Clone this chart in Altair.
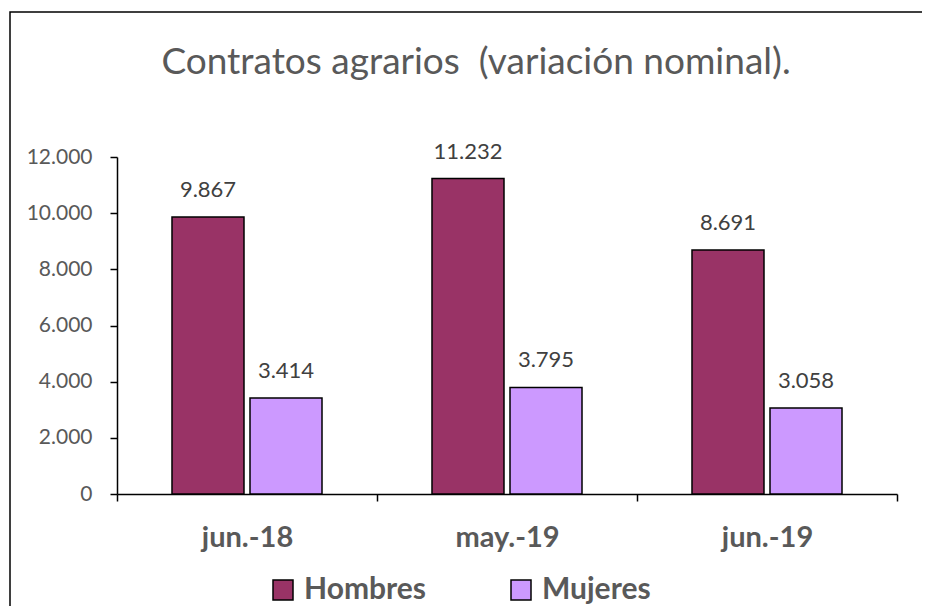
import altair as alt
import pandas as pd

categories = ["jun.-18", "may.-19", "jun.-19"]
hombres = [9867, 11232, 8691]
mujeres = [3414, 3795, 3058]
series = ["Hombres", "Mujeres"]
colors = ["#993366", "#CC99FF"]
y_ticks = [0, 2000, 4000, 6000, 8000, 10000, 12000]

rows = []
for c, h, m in zip(categories, hombres, mujeres):
    rows.append({"cat": c, "serie": series[0], "valor": h})
    rows.append({"cat": c, "serie": series[1], "valor": m})
df = pd.DataFrame(rows)

FONT = "Lato"
W, H = 780, 337

x_enc = alt.X(
    "cat:N", sort=categories, title=None,
    scale=alt.Scale(paddingInner=0, paddingOuter=0),
    axis=alt.Axis(
        tickBand="extent", labelAngle=0, labelFont=FONT, labelFontSize=29,
        labelFontWeight="bold", labelColor="#595959", labelPadding=22,
        domainColor="black", domainWidth=1.5, tickColor="black", tickWidth=1.5,
        tickSize=7, grid=False,
    ),
)
xo_enc = alt.XOffset(
    "serie:N", sort=series,
    scale=alt.Scale(paddingInner=0.077, paddingOuter=0.705),
)
y_enc = alt.Y(
    "valor:Q", title=None,
    scale=alt.Scale(domain=[0, 12000], nice=False),
    axis=alt.Axis(
        values=y_ticks, labelExpr="replace(format(datum.value, ','), ',', '.')",
        labelFont=FONT, labelFontSize=21, labelColor="#595959", labelPadding=18,
        domainColor="black", domainWidth=1.5, tickColor="black", tickWidth=1.5,
        tickSize=7, grid=False,
    ),
)

base = alt.Chart(df)

bars = base.mark_bar(stroke="black", strokeWidth=1.5).encode(
    x=x_enc, xOffset=xo_enc, y=y_enc,
    color=alt.Color(
        "serie:N", sort=series, title=None,
        scale=alt.Scale(domain=series, range=colors),
        legend=alt.Legend(
            orient="none", direction="horizontal", legendX=151, legendY=418,
            symbolType="square", symbolSize=400, symbolStrokeColor="black",
            symbolStrokeWidth=1.5, symbolOpacity=1,
            labelFont=FONT, labelFontSize=30, labelFontWeight="bold",
            labelColor="#595959", labelOffset=6, columnPadding=80,
        ),
    ),
)

labels = base.transform_calculate(
    lbl="replace(format(datum.valor, ','), ',', '.')"
).mark_text(
    font=FONT, fontSize=22, color="#404040", baseline="alphabetic", dy=-20
).encode(x=x_enc, xOffset=xo_enc, y=y_enc, text="lbl:N")

frame = alt.Chart(pd.DataFrame({"k": [0]})).mark_rect(
    fill=None, stroke="black", strokeWidth=1.5
).encode(
    x=alt.value(-107), x2=alt.value(900), y=alt.value(-145), y2=alt.value(560)
)

chart = alt.layer(frame, bars, labels).properties(
    width=W, height=H,
    background="white",
    title=alt.TitleParams(
        "Contratos agrarios\u00a0 (variación nominal).", font=FONT, fontSize=37,
        fontWeight="normal", color="#595959", anchor="middle", dx=-31,
        baseline="alphabetic", offset=0, dy=100, frame="group",
    ),
    autosize=alt.AutoSizeParams(type="none"),
    padding={"left": 109, "top": 149, "right": 25, "bottom": 112},
).configure_view(stroke=None, strokeWidth=0)

chart.save("out.html", embed_options={"renderer": "svg", "actions": False})
